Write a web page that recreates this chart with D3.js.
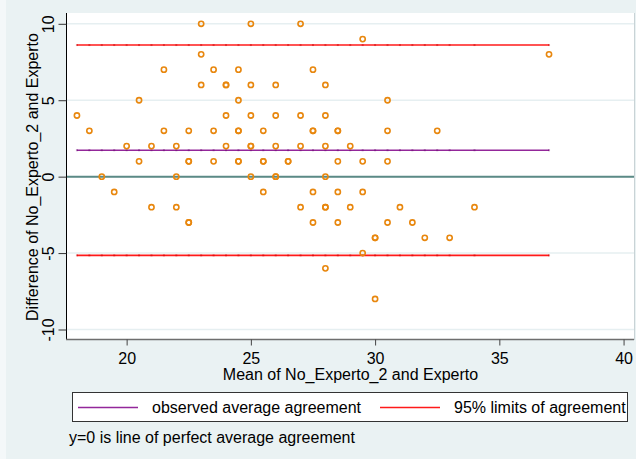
<!DOCTYPE html>
<html>
<head>
<meta charset="utf-8">
<script src="https://cdn.jsdelivr.net/npm/d3@7/dist/d3.min.js"></script>
<style>
  body { margin: 0; background: #eaf2f3; }
  svg { display: block; font-family: "Liberation Sans", Arial, sans-serif; }
</style>
</head>
<body>
<div id="chart"></div>
<script>
var svgWidth = 636;
var svgHeight = 459;

// mean of the two raters (x) and their difference (y)
var means = [23, 25, 27, 29.5, 23, 37,
  21.5, 23.5, 24.5, 27.5,
  23, 24, 24, 25, 26, 28,
  20.5, 24.5, 30.5,
  18, 24, 25, 26, 27, 28,
  18.5, 21.5, 22.5, 23.5, 24.5, 24.5, 25.5, 27.5, 27.5, 28.5, 28.5, 30.5, 32.5,
  20, 21, 22, 24, 25, 25, 26, 27, 28, 29,
  20.5, 22.5, 22.5, 23.5, 24.5, 24.5, 25.5, 25.5, 26.5, 26.5, 28.5, 29.5, 30.5,
  19, 22, 25, 26, 26, 28,
  19.5, 25.5, 27.5, 28.5, 29.5,
  21, 22, 27, 28, 28, 29, 31, 34,
  22.5, 22.5, 27.5, 28.5, 30.5, 31.5,
  30, 30, 32, 33,
  29.5, 28, 30];
var diffs = [10, 10, 10, 9, 8, 8,
  7, 7, 7, 7,
  6, 6, 6, 6, 6, 6,
  5, 5, 5,
  4, 4, 4, 4, 4, 4,
  3, 3, 3, 3, 3, 3, 3, 3, 3, 3, 3, 3, 3,
  2, 2, 2, 2, 2, 2, 2, 2, 2, 2,
  1, 1, 1, 1, 1, 1, 1, 1, 1, 1, 1, 1, 1,
  0, 0, 0, 0, 0, 0,
  -1, -1, -1, -1, -1,
  -2, -2, -2, -2, -2, -2, -2, -2,
  -3, -3, -3, -3, -3, -3,
  -4, -4, -4, -4,
  -5, -6, -8];

var meanDiff = 1.73;
var upperLimit = 8.61;
var lowerLimit = -5.15;

var xTicks = [20, 25, 30, 35, 40];
var yTicks = [-10, -5, 0, 5, 10];

var xTitle = "Mean of No_Experto_2 and Experto";
var yTitle = "Difference of No_Experto_2 and Experto";
var legendLabels = ["observed average agreement", "95% limits of agreement"];
var note = "y=0 is line of perfect average agreement";

var plot = { left: 67, right: 634, top: 13, bottom: 339 };

var svg = d3.select("#chart")
  .append("svg")
  .attr("width", svgWidth)
  .attr("height", svgHeight);

// graph region
svg.append("rect")
  .attr("width", svgWidth)
  .attr("height", svgHeight)
  .attr("fill", "#eaf2f3");
svg.append("rect")
  .attr("width", 6)
  .attr("height", svgHeight)
  .attr("fill", "#f4f8f9");

// plot region
svg.append("rect")
  .attr("x", plot.left)
  .attr("y", plot.top)
  .attr("width", plot.right - plot.left)
  .attr("height", plot.bottom - plot.top)
  .attr("fill", "#ffffff");
svg.append("line")
  .attr("x1", plot.right + 0.5).attr("x2", plot.right + 0.5)
  .attr("y1", plot.top).attr("y2", plot.bottom + 1)
  .attr("stroke", "#c9d3d6");

var xScale = d3.scaleLinear()
  .domain([17.6, 40.42])
  .range([plot.left, plot.right]);

var yScale = d3.scaleLinear()
  .domain([-10, 10])
  .range([329.5, 23.8]);

// gridlines
svg.append("g")
  .selectAll("line")
  .data(yTicks)
  .enter()
  .append("line")
  .attr("x1", plot.left)
  .attr("x2", plot.right)
  .attr("y1", d => yScale(d))
  .attr("y2", d => yScale(d))
  .attr("stroke", "#e6eff1")
  .attr("stroke-width", 1.5);

// zero line
svg.append("line")
  .attr("x1", plot.left)
  .attr("x2", plot.right)
  .attr("y1", yScale(0))
  .attr("y2", yScale(0))
  .attr("stroke", "#5b8a86")
  .attr("stroke-width", 2);

var xs = Array.from(new Set(means)).sort((a, b) => a - b);

// agreement lines with faint markers at every observed mean
function refLine(value, color, dark) {
  var g = svg.append("g");
  g.append("line")
    .attr("x1", xScale(d3.min(xs)))
    .attr("x2", xScale(d3.max(xs)))
    .attr("y1", yScale(value))
    .attr("y2", yScale(value))
    .attr("stroke", color)
    .attr("stroke-width", 1.6);
  g.selectAll("rect")
    .data(xs)
    .enter()
    .append("rect")
    .attr("x", d => xScale(d) - 1)
    .attr("y", yScale(value) - 1)
    .attr("width", 2)
    .attr("height", 2)
    .attr("fill", dark)
    .attr("opacity", 0.45);
}

refLine(meanDiff, "#93279a", "#6a0a70");
refLine(upperLimit, "#ff1a1a", "#c00000");
refLine(lowerLimit, "#ff1a1a", "#c00000");

// points
svg.append("g")
  .selectAll("circle")
  .data(means)
  .enter()
  .append("circle")
  .attr("cx", d => xScale(d))
  .attr("cy", (d, i) => yScale(diffs[i]))
  .attr("r", 2.6)
  .attr("fill", "none")
  .attr("stroke", "#e8870e")
  .attr("stroke-width", 1.6);

// y axis
var leftAxis = d3.axisLeft(yScale)
  .tickValues(yTicks)
  .tickSize(8)
  .tickFormat(d => String(d));

var yAxis = svg.append("g")
  .attr("transform", `translate(${plot.left - 0.5}, 0)`)
  .call(leftAxis);
yAxis.select(".domain")
  .attr("d", `M0,${plot.top}V${plot.bottom + 1}`)
  .attr("stroke", "#000");
yAxis.selectAll(".tick line").attr("stroke", "#333");
yAxis.selectAll(".tick text")
  .attr("x", null)
  .attr("dy", null)
  .attr("transform", "translate(-13,0) rotate(-90)")
  .attr("text-anchor", "middle")
  .attr("font-size", 16)
  .attr("font-family", "Liberation Sans, Arial, sans-serif")
  .attr("fill", "#000");

// x axis
var bottomAxis = d3.axisBottom(xScale)
  .tickValues(xTicks)
  .tickSize(6)
  .tickPadding(7);

var xAxis = svg.append("g")
  .attr("transform", `translate(0, ${plot.bottom + 0.5})`)
  .call(bottomAxis);
xAxis.select(".domain")
  .attr("d", `M${plot.left - 1},0H${plot.right}`)
  .attr("stroke", "#6e6e6e")
  .attr("stroke-width", 1.5);
xAxis.selectAll(".tick line").attr("stroke", "#444");
xAxis.selectAll(".tick text")
  .attr("font-size", 16)
  .attr("font-family", "Liberation Sans, Arial, sans-serif")
  .attr("fill", "#000");

// axis titles
svg.append("text")
  .attr("x", (plot.left + plot.right) / 2)
  .attr("y", 380)
  .attr("text-anchor", "middle")
  .attr("font-size", 16)
  .text(xTitle);

svg.append("text")
  .attr("transform", "translate(38, 177) rotate(-90)")
  .attr("text-anchor", "middle")
  .attr("font-size", 16)
  .text(yTitle);

// legend
var legend = svg.append("g");
legend.append("rect")
  .attr("x", 72.5)
  .attr("y", 392.5)
  .attr("width", 555)
  .attr("height", 29)
  .attr("fill", "#ffffff")
  .attr("stroke", "#333")
  .attr("stroke-width", 1);

var legendColors = ["#93279a", "#ff1a1a"];
var legendX = [78, 380];

legendLabels.forEach(function(label, i) {
  legend.append("line")
    .attr("x1", legendX[i])
    .attr("x2", legendX[i] + 60)
    .attr("y1", 407.5)
    .attr("y2", 407.5)
    .attr("stroke", legendColors[i])
    .attr("stroke-width", 1.6);
  legend.append("text")
    .attr("x", legendX[i] + 74)
    .attr("y", 413)
    .attr("font-size", 16)
    .text(label);
});

svg.append("text")
  .attr("x", 69)
  .attr("y", 443)
  .attr("font-size", 16)
  .text(note);
</script>
</body>
</html>
